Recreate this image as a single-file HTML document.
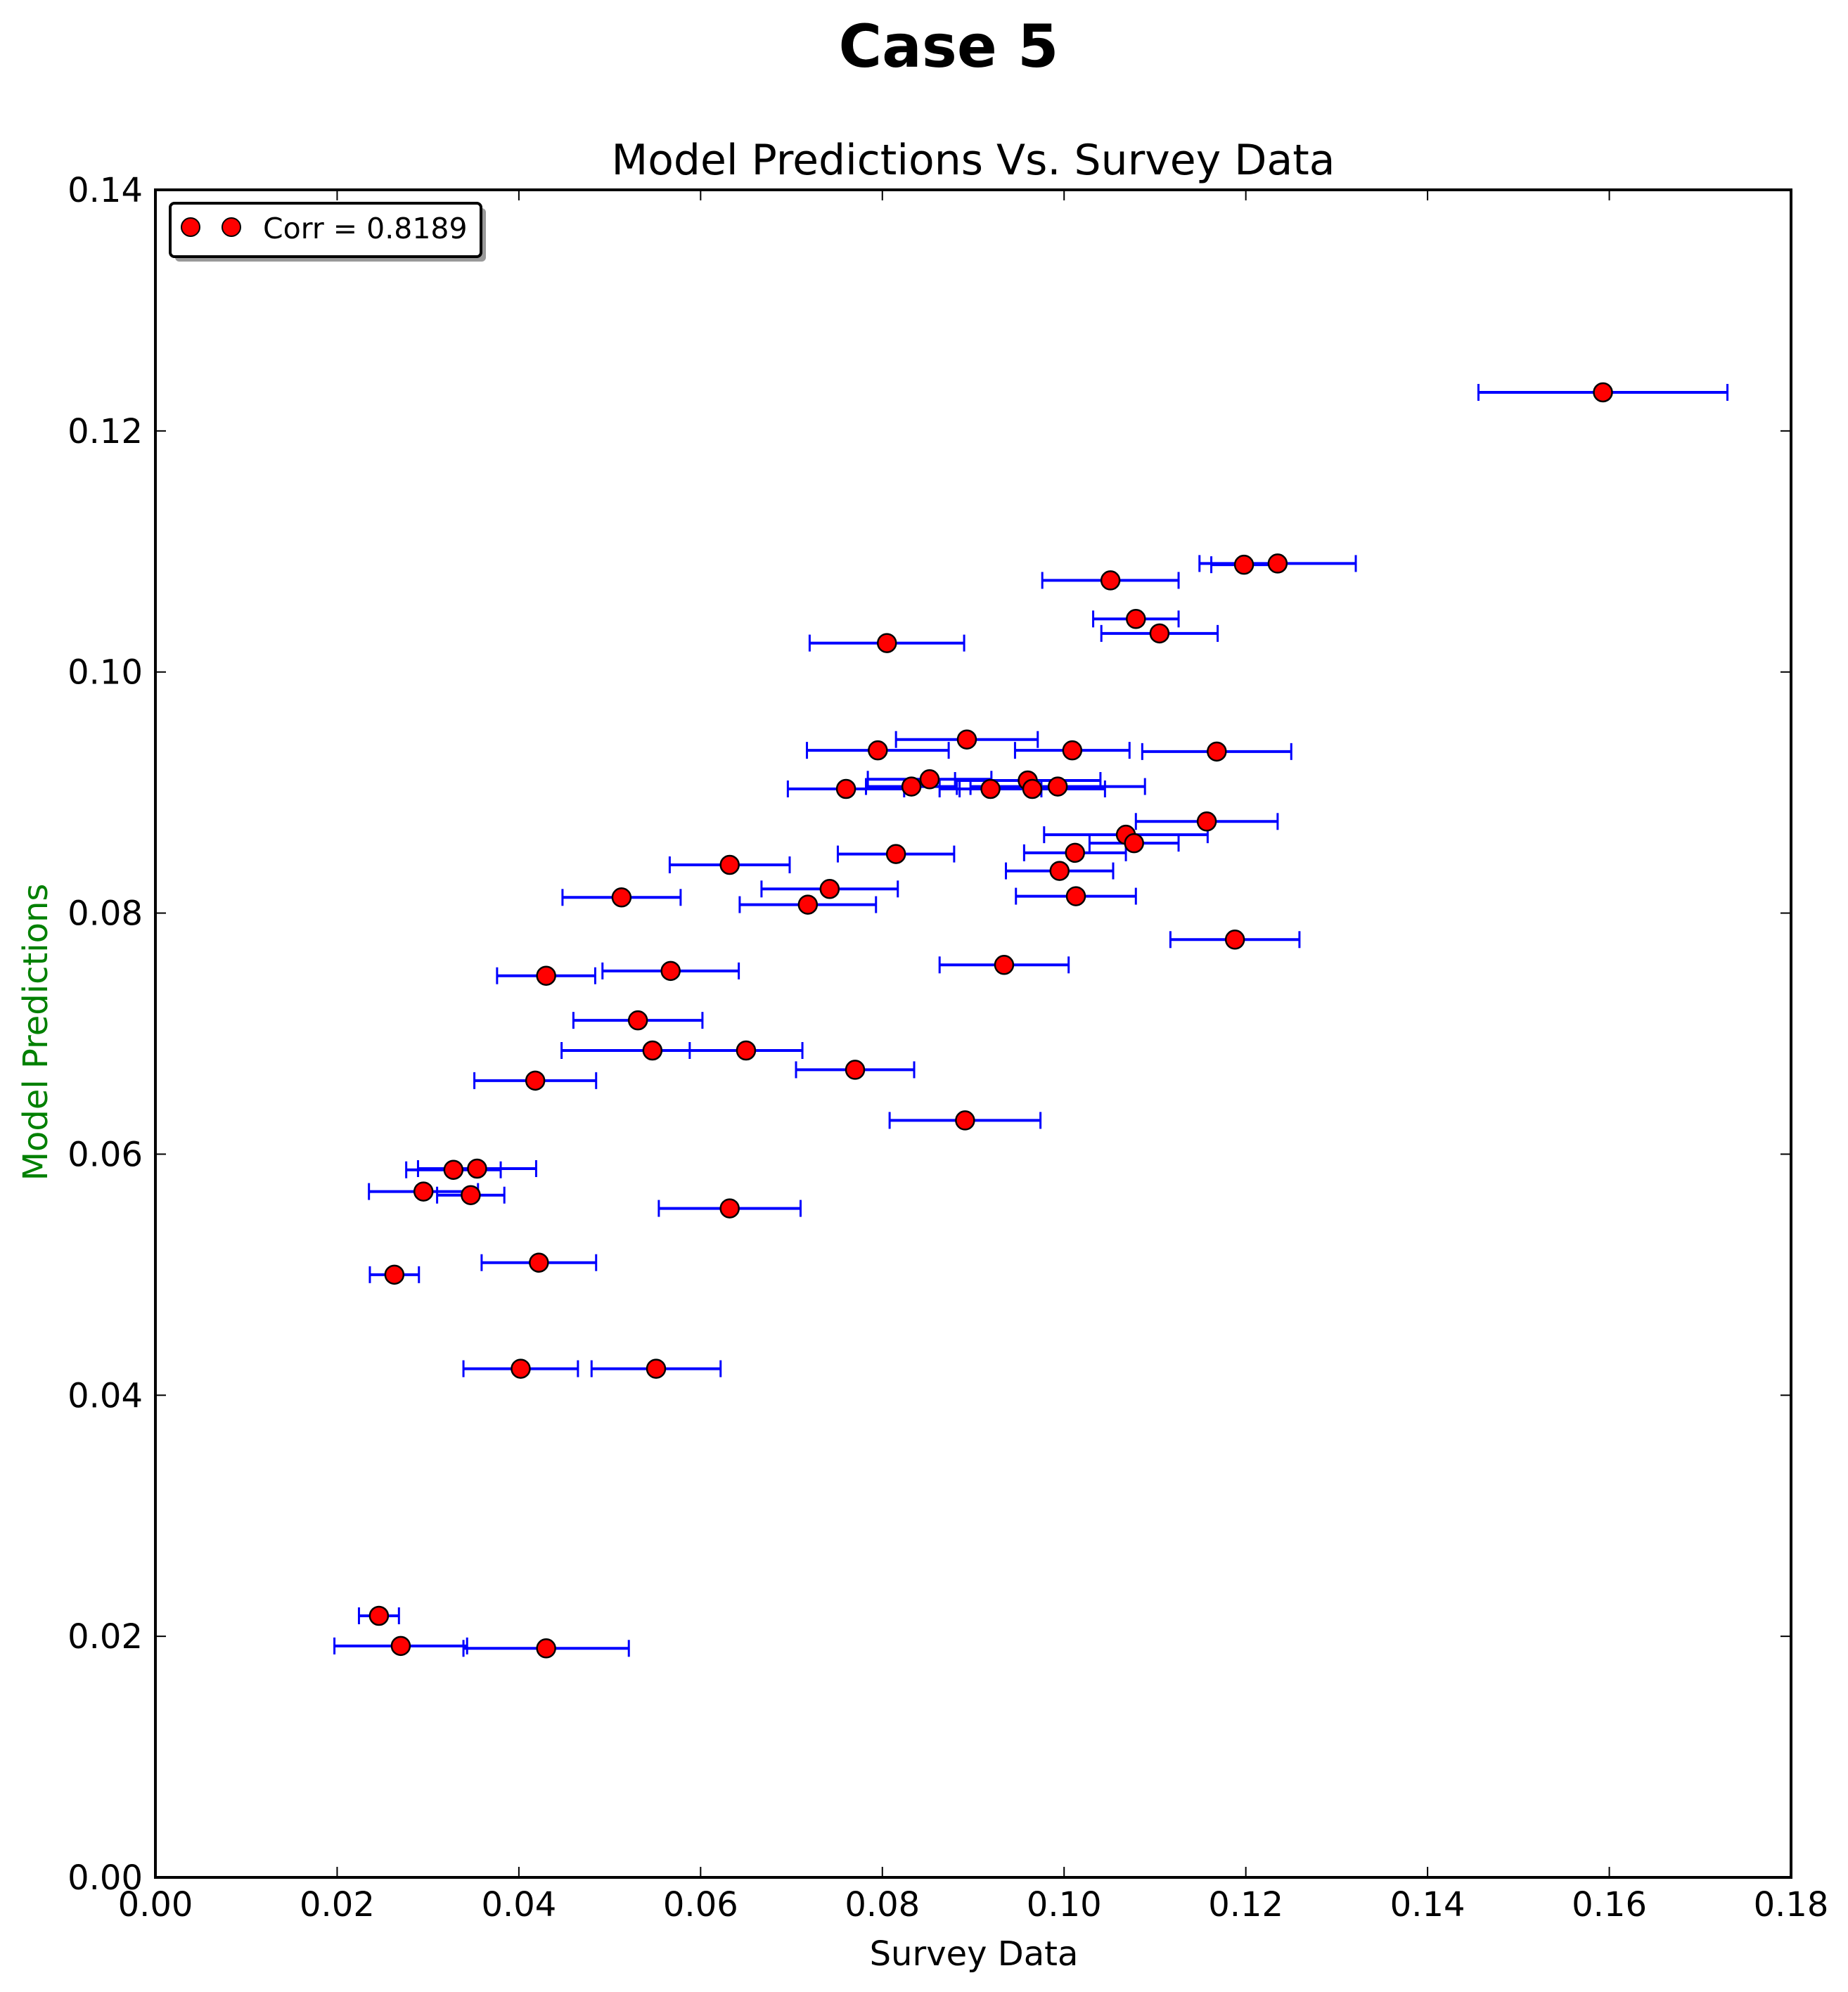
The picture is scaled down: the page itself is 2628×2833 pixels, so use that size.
<!DOCTYPE html>
<html><head><meta charset="utf-8"><style>
html,body{margin:0;padding:0;background:#fff;}
svg{display:block;font-family:"DejaVu Sans","Liberation Sans",sans-serif;}
</style></head><body>
<svg id="chart" width="2628" height="2833" viewBox="0 0 2628 2833">
<text x="1349" y="95" font-size="84" font-weight="bold" text-anchor="middle">Case 5</text>
<text x="1384" y="248" font-size="60" text-anchor="middle">Model Predictions Vs. Survey Data</text>
<text x="1385" y="2795" font-size="48" text-anchor="middle">Survey Data</text>
<text transform="translate(67,1468) rotate(-90)" font-size="48" fill="#008000" text-anchor="middle">Model Predictions</text>
<g id="ticks"></g>
<g id="errs"></g>
<g id="pts"></g>
<rect x="221" y="270" width="2326" height="2400" fill="none" stroke="#000" stroke-width="4"/>
<g>
<rect x="249" y="296" width="442" height="76" rx="6" fill="#999"/>
<rect x="242" y="289" width="442" height="76" rx="6" fill="#fff" stroke="#000" stroke-width="4"/>
<circle cx="271" cy="323" r="13" fill="#f00" stroke="#000" stroke-width="2"/>
<circle cx="329" cy="323" r="13" fill="#f00" stroke="#000" stroke-width="2"/>
<text x="374" y="339" font-size="41">Corr = 0.8189</text>
</g>
</svg>
<script>
const xTicks=[0,0.02,0.04,0.06,0.08,0.10,0.12,0.14,0.16,0.18];
const xTickLabels=["0.00","0.02","0.04","0.06","0.08","0.10","0.12","0.14","0.16","0.18"];
const yTicks=[0,0.02,0.04,0.06,0.08,0.10,0.12,0.14];
const yTickLabels=["0.00","0.02","0.04","0.06","0.08","0.10","0.12","0.14"];
const surveyX=[0.1593,0.1235,0.1198,0.1051,0.1079,0.1105,0.0805,0.0893,0.0795,0.1009,0.1168,0.0852,0.0960,0.0832,0.0993,0.0760,0.0919,0.0965,0.1157,0.1068,0.1077,0.1012,0.0815,0.0995,0.0632,0.0742,0.1013,0.0513,0.0718,0.1188,0.0934,0.0567,0.0430,0.0531,0.0547,0.0650,0.0770,0.0418,0.0891,0.0354,0.0328,0.0295,0.0347,0.0632,0.0422,0.0263,0.0402,0.0551,0.0246,0.0270,0.0430];
const modelY=[0.1232,0.1090,0.1089,0.1076,0.1044,0.1032,0.1024,0.0944,0.0935,0.0935,0.0934,0.0911,0.0910,0.0905,0.0905,0.0903,0.0903,0.0903,0.0876,0.0865,0.0858,0.0850,0.0849,0.0835,0.0840,0.0820,0.0814,0.0813,0.0807,0.0778,0.0757,0.0752,0.0748,0.0711,0.0686,0.0686,0.0670,0.0661,0.0628,0.0588,0.0587,0.0569,0.0566,0.0555,0.0510,0.0500,0.0422,0.0422,0.0217,0.0192,0.0190];
const xErr=[0.0137,0.0086,0.0036,0.0075,0.0047,0.0064,0.0085,0.0078,0.0078,0.0063,0.0082,0.0068,0.0080,0.0050,0.0096,0.0064,0.0056,0.0080,0.0078,0.0090,0.0049,0.0056,0.0064,0.0059,0.0066,0.0075,0.0066,0.0065,0.0075,0.0071,0.0071,0.0075,0.0054,0.0071,0.0100,0.0062,0.0065,0.0067,0.0083,0.0065,0.0052,0.0060,0.0037,0.0078,0.0063,0.0027,0.0063,0.0071,0.0022,0.0073,0.0091];
const L=221,R=2547,T=270,B=2670;
function sx(v){return L+v/0.18*(R-L);}
function sy(v){return B-v/0.14*(B-T);}
const NS="http://www.w3.org/2000/svg";
function mk(tag,attrs,parent){const e=document.createElementNS(NS,tag);for(const k in attrs)e.setAttribute(k,attrs[k]);parent.appendChild(e);return e;}
const tg=document.getElementById('ticks');
xTicks.forEach((v,i)=>{const x=sx(v);
 let a=mk('line',{x1:x,x2:x,y1:B,y2:B-15,stroke:'#000','stroke-width':2},tg);
 
 
 let b=mk('line',{x1:x,x2:x,y1:T,y2:T+15,stroke:'#000','stroke-width':2},tg);
 
 
 let t=mk('text',{x:x,y:2725,'font-size':48,'text-anchor':'middle'},tg);t.textContent=xTickLabels[i];
 
 
});
yTicks.forEach((v,i)=>{const y=sy(v);
 let a=mk('line',{x1:L,x2:L+15,y1:y,y2:y,stroke:'#000','stroke-width':2},tg);
 
 
 let b=mk('line',{x1:R,x2:R-15,y1:y,y2:y,stroke:'#000','stroke-width':2},tg);
 
 
 let t=mk('text',{x:203,y:y+17,'font-size':48,'text-anchor':'end'},tg);t.textContent=yTickLabels[i];
 
 
});
const eg=document.getElementById('errs'),pg=document.getElementById('pts');
surveyX.forEach((xv,i)=>{const y=sy(modelY[i]),x1=sx(xv-xErr[i]),x2=sx(xv+xErr[i]);
 let g=mk('g',{stroke:'#0000ff','stroke-width':4},eg);
 
 
 mk('line',{x1:x1,x2:x2,y1:y,y2:y},g);
 mk('line',{x1:x1,x2:x1,y1:y-12,y2:y+12,'stroke-width':3},g);
 mk('line',{x1:x2,x2:x2,y1:y-12,y2:y+12,'stroke-width':3},g);
});
surveyX.forEach((xv,i)=>{
 let c=mk('circle',{cx:sx(xv),cy:sy(modelY[i]),r:13,fill:'#ff0000',stroke:'#000','stroke-width':2.5},pg);
 
 
});
</script>
</body></html>
